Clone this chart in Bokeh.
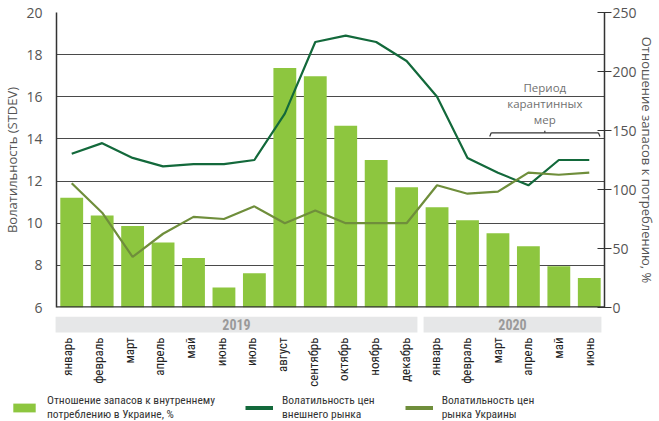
import math
from bokeh.plotting import figure
from bokeh.models import (FactorRange, Range1d, LinearAxis, FixedTicker, Span,
                          Legend, LegendItem, ColumnDataSource)
from bokeh.layouts import column
from bokeh.core.properties import value
from bokeh.embed import file_html
from bokeh.resources import INLINE

# ---------------- data ----------------
MONTHS = ["январь", "февраль", "март", "апрель", "май", "июнь", "июль", "август",
          "сентябрь", "октябрь", "ноябрь", "декабрь",
          "январь", "февраль", "март", "апрель", "май", "июнь"]
YEARS = ["2019"] * 12 + ["2020"] * 6
FACTORS = list(zip(YEARS, MONTHS))

STOCK_RATIO = [93, 78, 69, 55, 42, 17, 29, 203, 196, 154, 125, 102, 85, 74, 63, 52, 35, 25]
EXT_VOL = [13.3, 13.8, 13.1, 12.7, 12.8, 12.8, 13.0, 15.2, 18.6, 18.9, 18.6, 17.7,
           16.0, 13.1, 12.4, 11.8, 13.0, 13.0]
UKR_VOL = [11.9, 10.5, 8.4, 9.5, 10.3, 10.2, 10.8, 10.0, 10.6, 10.0, 10.0, 10.0,
           11.8, 11.4, 11.5, 12.4, 12.3, 12.4]

LEFT_TICKS = [6, 8, 10, 12, 14, 16, 18, 20]
RIGHT_TICKS = [0, 50, 100, 150, 200, 250]

QUARANTINE_LINES = ["Период", "карантинных", "мер"]
QUARANTINE_FROM = 14   # index of март 2020
QUARANTINE_TO = 17     # index of июнь 2020

LEGEND_LABELS = ["Отношение запасов к внутреннему\nпотреблению в Украине, %",
                 "Волатильность цен\nвнешнего рынка",
                 "Волатильность цен\nрынка Украины"]

# ---------------- styles ----------------
BAR_C = "#8DC63F"
EXT_C = "#13693B"
UKR_C = "#6F8E3B"
NUM_F = "Open Sans"
COND_F = "'Roboto Condensed', 'Noto Sans Condensed', 'DejaVu Sans Condensed', 'Liberation Sans'"

W, FRAME_L, FRAME_R = 659, 52, 604
N = len(FACTORS)
PX_PER_CAT = (FRAME_R - FRAME_L) / N

src = ColumnDataSource(dict(x=FACTORS, ratio=STOCK_RATIO, ext=EXT_VOL, ukr=UKR_VOL))
xr = FactorRange(*FACTORS, range_padding=0, group_padding=0, factor_padding=0)

# ---------------- main chart ----------------
p = figure(width=W, height=316, x_range=xr, y_range=Range1d(6, 20),
           x_axis_location=None, title=None, toolbar_location=None,
           output_backend="svg", min_border_left=FRAME_L, min_border_right=W - FRAME_R,
           min_border_top=12, min_border_bottom=9)
p.frame_align = False
p.outline_line_color = None
p.xgrid.grid_line_color = None
p.extra_y_ranges = {"pct": Range1d(0, 250)}

p.yaxis.ticker = FixedTicker(ticks=LEFT_TICKS)
p.ygrid.ticker = FixedTicker(ticks=LEFT_TICKS)
p.ygrid.grid_line_color = "#4a4a4a"
p.ygrid.grid_line_width = 1
yl = p.yaxis[0]
yl.axis_label = "Волатильность (STDEV)"
yl.axis_label_text_font = NUM_F
yl.axis_label_text_font_size = "13px"
yl.axis_label_text_font_style = "normal"
yl.axis_label_text_color = "#555555"
yl.axis_label_standoff = 2
yl.major_label_text_font = NUM_F
yl.major_label_text_font_size = "14px"
yl.major_label_text_color = "#555555"
yl.major_label_standoff = 8
yl.major_tick_line_color = None
yl.minor_tick_line_color = None
yl.axis_line_color = "#333333"
yl.axis_line_width = 1.5

yr = LinearAxis(y_range_name="pct", ticker=FixedTicker(ticks=RIGHT_TICKS))
yr.axis_label = "Отношение запасов к потреблению, %"
yr.axis_label_text_font = NUM_F
yr.axis_label_text_font_size = "13px"
yr.axis_label_text_font_style = "normal"
yr.axis_label_text_color = "#555555"
yr.axis_label_standoff = -2
yr.major_label_text_font = NUM_F
yr.major_label_text_font_size = "14px"
yr.major_label_text_color = "#555555"
yr.major_label_standoff = 1
yr.major_tick_in = 7
yr.major_tick_out = 7
yr.major_tick_line_color = "#333333"
yr.minor_tick_line_color = None
yr.axis_line_color = "#333333"
yr.axis_line_width = 1.5
p.add_layout(yr, "right")

p.vbar(x="x", top="ratio", bottom=0, width=0.75, source=src, y_range_name="pct",
       fill_color=BAR_C, line_color=None)
p.line(x="x", y="ext", source=src, line_color=EXT_C, line_width=2.2)
p.line(x="x", y="ukr", source=src, line_color=UKR_C, line_width=2.2)

p.add_layout(Span(location=LEFT_TICKS[0], dimension="width", line_color="#333333",
                  line_width=2.5))

# quarantine annotation
q_left = QUARANTINE_FROM + 0.28
q_right = QUARANTINE_TO + 1 - 0.2
q_mid = (q_left + q_right) / 2
q_y = 14.29
p.text(x=[q_mid] * 3, y=[16.43, 15.67, 14.9], text=QUARANTINE_LINES,
       text_align="center", text_baseline="middle", text_font=value(NUM_F),
       text_font_size="11.5px", text_color="#707070")
p.multi_line(xs=[[q_left, q_right], [q_left, q_left - 0.05], [q_right, q_right + 0.05],
                 [q_mid, q_mid]],
             ys=[[q_y, q_y], [q_y, q_y - 0.17], [q_y, q_y - 0.17], [q_y, q_y + 0.1]],
             line_color="#333333", line_width=1.2)

# ---------------- year bands, month labels, legend ----------------
# numeric copy of the category scale (category i is centred at i + 0.5),
# frame widened symmetrically so the legend lies inside this panel's frame
pad = FRAME_L / PX_PER_CAT
cat_pos = [i + 0.5 for i in range(N)]
src2 = ColumnDataSource(dict(x=cat_pos, month=MONTHS, ratio=STOCK_RATIO,
                             ext=EXT_VOL, ukr=UKR_VOL))
# y range of this panel is in pixels (0 = bottom edge, 105 = top edge)
p2 = figure(width=W, height=105, x_range=Range1d(-pad, N + pad), y_range=Range1d(0, 105),
            x_axis_location=None, y_axis_location=None, title=None,
            toolbar_location=None, output_backend="svg", min_border_left=0,
            min_border_right=W - FRAME_R - FRAME_L, min_border_top=0,
            min_border_bottom=0)
p2.frame_align = False
p2.outline_line_color = None
p2.grid.grid_line_color = None
p2.extra_y_ranges = {"hidden": Range1d(1000, 1001)}

year_names = []
bl, br, bc = [], [], []
for y in dict.fromkeys(YEARS):
    idx = [i for i, v in enumerate(YEARS) if v == y]
    year_names.append(y)
    bl.append(idx[0] + 0.1)
    br.append(idx[-1] + 1 - 0.1)
    bc.append((idx[0] + idx[-1] + 1) / 2)
p2.quad(left=bl, right=br, bottom=89, top=105, fill_color="#E6E7E8", line_color=None)
p2.text(x=bc, y=[97] * len(bc), text=year_names, text_align="center",
        text_baseline="middle", text_font=value(COND_F), text_font_size="14px",
        text_font_style="bold", text_color="#9a9a9a")

# month tick labels (vertical, reading upwards)
p2.text(x="x", y=84, text="month", source=src2,
        angle=math.pi / 2, text_align="right", text_baseline="middle",
        text_font=value(COND_F), text_font_size="13px", text_color="#222222")

lb = p2.vbar(x="x", top="ratio", bottom=0, width=0.75, source=src2,
             y_range_name="hidden", fill_color=BAR_C, line_color=None)
le = p2.line(x="x", y="ext", source=src2, y_range_name="hidden",
             line_color=EXT_C, line_width=4)
lu = p2.line(x="x", y="ukr", source=src2, y_range_name="hidden",
             line_color=UKR_C, line_width=4)
legend = Legend(items=[LegendItem(label=LEGEND_LABELS[0], renderers=[lb]),
                       LegendItem(label=LEGEND_LABELS[1], renderers=[le]),
                       LegendItem(label=LEGEND_LABELS[2], renderers=[lu])],
                orientation="horizontal", location=(10, 0), glyph_width=28,
                glyph_height=11, label_standoff=9, spacing=30, padding=0, margin=0,
                border_line_color=None, background_fill_alpha=0,
                label_text_font=COND_F, label_text_font_size="11.5px",
                label_text_color="#333333", label_text_line_height=1.5)
p2.add_layout(legend)

layout = column(p, p2, spacing=0)
open("out.html", "w").write(file_html(layout, INLINE))
